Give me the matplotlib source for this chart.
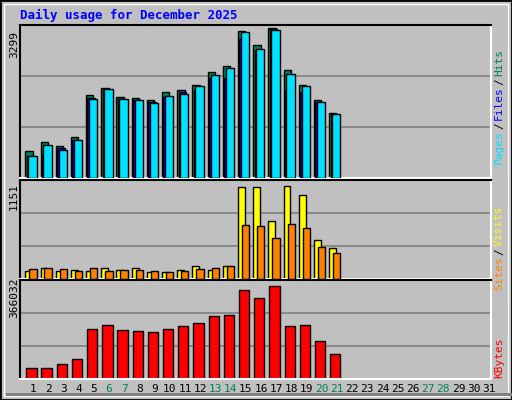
import matplotlib
matplotlib.use("Agg")
import matplotlib.pyplot as plt
from matplotlib.patches import Rectangle
import numpy as np

days = list(range(1, 32))
weekend = [6, 7, 13, 14, 20, 21, 27, 28]
hits = [591,792,703,904,1822,1978,1777,1755,1717,1889,1940,2052,2321,2455,3232,2918,3299,2381,2046,1717,1419]
files = [486,522,664,844,1761,1932,1739,1708,1671,1783,1880,1932,2201,2186,3044,2813,3261,1940,1895,1671,1395]
pages = [486,732,620,844,1739,1956,1739,1717,1649,1799,1844,2023,2269,2410,3194,2829,3238,2292,2023,1672,1397]
visits = [97,124,97,109,97,124,109,124,85,85,109,147,109,155,1062,1062,667,1073,969,457,364]
sites = [120,132,120,97,132,97,109,109,97,85,97,120,132,155,632,620,481,643,597,376,306]
kbytes = [42592,42592,58564,78529,198319,214291,194326,190333,186340,198319,210298,222277,250228,254221,350053,318109,366032,210298,214291,150403,98494]
scale_labels = ["3299", "1151", "366032"]

W, H = 512, 400
BG = "#C0C0C0"
mono = "DejaVu Sans Mono"
fig = plt.figure(figsize=(W/100, H/100), dpi=100, facecolor=BG)
fig.patches.append(Rectangle((0, 0), 1, 1, transform=fig.transFigure, fill=False, edgecolor="black", lw=2))
fig.patches.append(Rectangle((4/W, 4/H), (W-8)/W, (H-8)/H, transform=fig.transFigure, fill=False, edgecolor="white", lw=1))
fig.patches.append(Rectangle((6/W, 4/H), (W-6)/W, 3/H, transform=fig.transFigure, color="#808080", lw=0))

def ax_px(x0, y0, x1, y1):
    return fig.add_axes([x0/W, 1-y1/H, (x1-x0)/W, (y1-y0)/H])

def style(ax, top):
    ax.set_facecolor(BG)
    ax.set_xlim(0.5, 31.5)
    ax.set_ylim(0, top)
    for f in (1/3, 2/3):
        ax.axhline(top*f, color="#808080", lw=1.2, zorder=0)
    ax.set_xticks([]); ax.set_yticks([])
    ax.spines["top"].set_color("black"); ax.spines["left"].set_color("black")
    ax.spines["right"].set_color("white"); ax.spines["bottom"].set_color("white")
    for s in ax.spines.values(): s.set_linewidth(1.5)

x = np.arange(1, len(hits)+1)
ec = dict(edgecolor="black", linewidth=1)

ax1 = ax_px(20, 25, 491, 178)
style(ax1, max(hits)*1.018)
ax1.bar(x-0.15, hits, width=0.48, align="edge", color="#00805C", zorder=2, **ec)
ax1.bar(x-0.06, files, width=0.5, align="edge", color="#0000FF", zorder=3, **ec)
ax1.bar(x+0.04, pages, width=0.55, align="edge", color="#00E0FF", zorder=4, **ec)

ax2 = ax_px(20, 180, 491, 279)
style(ax2, max(visits)*1.07)
ax2.bar(x-0.15, visits, width=0.45, align="edge", color="#FFFF00", zorder=2, **ec)
ax2.bar(x+0.11, sites, width=0.48, align="edge", color="#FF8000", zorder=3, **ec)

ax3 = ax_px(20, 280, 491, 379)
style(ax3, max(kbytes)*1.067)
ax3.bar(x-0.09, kbytes, width=0.68, align="edge", color="#FF0000", zorder=2, **ec)

fig.text(20/W, 1-15/H, "Daily usage for December 2025", color="#0000FF", fontsize=9,
         fontweight="bold", family=mono, va="center", ha="left")

for yc, lbl in zip([45, 196, 298], scale_labels):
    fig.text(14/W, 1-yc/H, lbl, rotation=90, family=mono, fontsize=8, ha="center", va="center")

CH = 0.6 * 8 * 100 / 72
def rlabel(ybot, parts):
    y = ybot
    for t, c in parts:
        fig.text(499/W, 1-y/H, t, rotation=90, family=mono, fontsize=8, color=c, ha="center", va="bottom")
        y -= len(t)*CH + 2
rlabel(164, [("Pages", "#00E0FF"), ("/", "black"), ("Files", "#0000FF"), ("/", "black"), ("Hits", "#00805C")])
rlabel(290, [("Sites", "#FF8000"), ("/", "black"), ("Visits", "#FFFF00")])
rlabel(378, [("KBytes", "#FF0000")])

for d in days:
    px = 20 + (d - 0.5 + 0.36) * 471/31
    fig.text(px/W, 1-389/H, str(d), family=mono, fontsize=8, ha="center", va="center",
             color="#00805C" if d in weekend else "black")

fig.savefig("out.png", dpi=100, facecolor=BG)
